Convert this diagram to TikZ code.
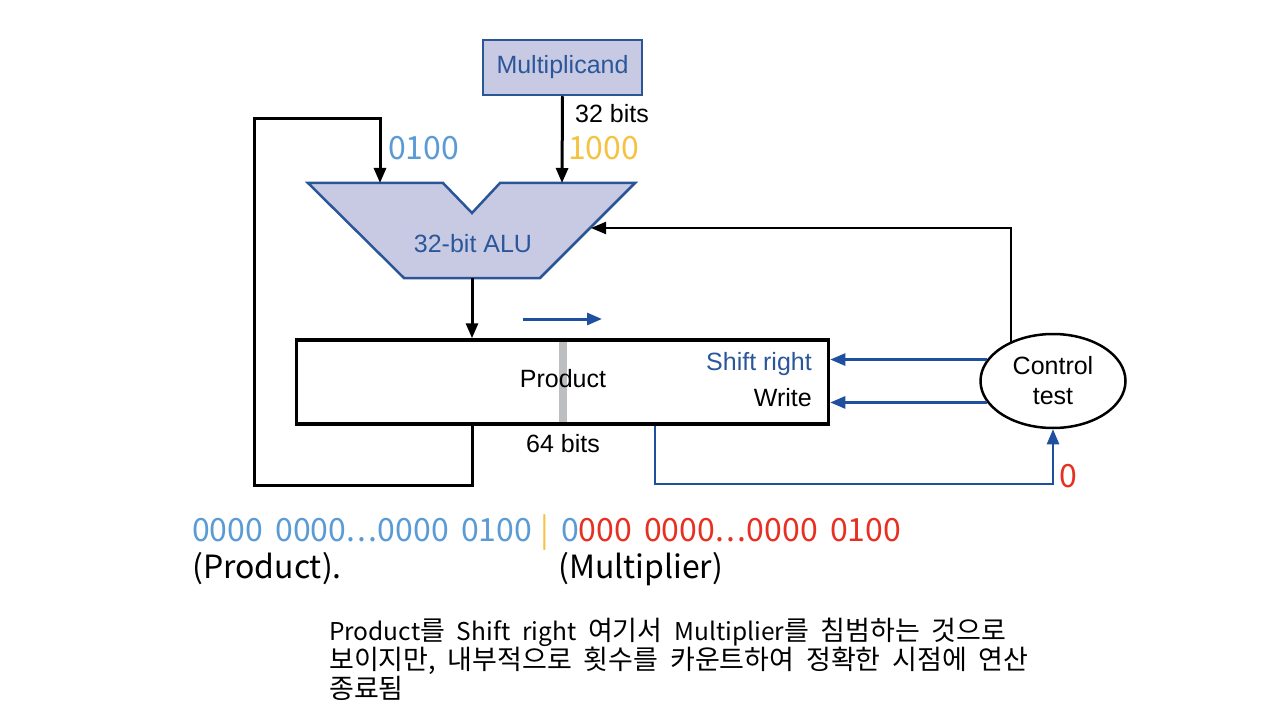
\documentclass[tikz,border=0pt]{standalone}
\usepackage{fontspec}
\setmainfont{Liberation Sans}
\newfontfamily\krfont{Noto Sans CJK KR}
\usetikzlibrary{positioning,shapes.geometric,arrows.meta}
\definecolor{alufill}{HTML}{C8CAE4}
\definecolor{aluedge}{HTML}{2A5597}
\definecolor{alutext}{HTML}{2B579A}
\definecolor{lineblue}{HTML}{1F50A0}
\definecolor{lightblue}{HTML}{5B9BD5}
\definecolor{gold}{HTML}{F5C242}
\definecolor{redtxt}{HTML}{E63022}
\definecolor{bargray}{HTML}{BCBEC0}
\newcommand{\bitdots}{.\kern2pt.\kern2pt.\kern1pt\relax}
\newcommand{\latn}[1]{{\fontsize{24.5}{29}\selectfont #1}}

\begin{document}
\begin{tikzpicture}[x=1pt, y=-1pt,
	lbl/.style={font=\fontsize{25}{30}\selectfont, inner sep=0pt},
	num/.style={font=\krfont\fontsize{32}{34}\selectfont, execute at begin node={\spaceskip=12pt\relax}, inner sep=0pt},
	bignum/.style={font=\krfont\fontsize{32}{34}\selectfont, inner sep=0pt, anchor=base west},
	kr/.style={font=\krfont\fontsize{27}{29}\selectfont, execute at begin node={\spaceskip=11.8pt\relax}, inner sep=0pt, anchor=base west},
	tip/.style={-{Triangle[length=15pt,width=12pt]}},
	blk/.style={tip, line width=3pt},
	ctl/.style={tip, line width=2pt},
	blu/.style={tip, draw=lineblue, line width=2.5pt},
	reg/.style={draw=aluedge, fill=alufill, line width=2.5pt, text=alutext}]
	\useasboundingbox (0,0) rectangle (1280,722);
	
	\node[reg, lbl, minimum width=159pt, minimum height=55pt] (mcand) at (562.5,67.5) {Multiplicand};
	
	\draw[reg] (308,183) -- (443,183) -- (472,213) -- (500,183) -- (635,183) -- (540,278) -- (404,278) -- cycle;
	\coordinate (aluL) at (380,183);
	\coordinate (aluR) at (562,183);
	\coordinate (aluB) at (472,278);
	\coordinate (aluS) at (591,228);
	\node[lbl, text=alutext, anchor=base] (alu) at (473,253) {32-bit ALU};
	
	\fill[bargray] (559,340) rectangle (567,424);
	\node[draw, line width=3.5pt, minimum width=532pt, minimum height=84pt] (prod) at (562.5,382) {};
	\node[lbl, anchor=base] (prodlbl) at (563,387) {Product};
	\node[lbl, text=alutext, anchor=base east] (shift) at (812,370) {Shift right};
	\node[lbl, anchor=base east] (write) at (812,406) {Write};
	
	\node[ellipse, draw, line width=2.5pt, minimum width=145pt, minimum height=94pt, lbl, align=center] (ctrl) at (1053,381) {Control\\test};
	
	\coordinate (loopTL) at (254,119);
	\coordinate (tap) at (655,484);
	\coordinate (shL) at (523,319);
	\coordinate (shR) at (602,319);
	
	\draw[blk] (mcand.south) -- (aluR);
	\draw[blk] (aluB) -- (prod.north -| aluB);
	\draw[blk] (prod.south -| aluB) -- ++(0,60) -| (loopTL) -| (aluL);
	\draw[ctl] (ctrl.137) |- (aluS);
	\draw[blu] (ctrl.162) -- (ctrl.162 -| prod.east);
	\draw[blu] (ctrl.198) -- (ctrl.198 -| prod.east);
	\draw[blu] (prod.south -| tap) -- (tap) -| (ctrl.south);
	\draw[blu, line width=3pt] (shL) -- (shR);
	
	\node[lbl, anchor=base west] (w32) at (575,123) {32 bits};
	\node[lbl, anchor=base] (w64) at (563,452) {64 bits};
	\node[bignum, text=lightblue] (v0100) at (388,160) {0100};
	\node[bignum, text=gold] (v1000) at (568,160) {1000};
	\node[bignum, text=redtxt] (zero) at (1059,487) {0};
	
	\node[num, text=lightblue, anchor=base west] (prodbits) at (192,541) {0000 0000\bitdots 0000 0100};
	\node[num, text=gold, anchor=base] (sep) at (545,541) {|};
	\node[num, anchor=base west] (mplbits) at (561,541) {\textcolor{lightblue}{0}\textcolor{redtxt}{000 0000\bitdots 0000 0100}};
	\node[num, anchor=base west] (prodname) at (192,578) {(Product).};
	\node[num, anchor=base west] (mplname) at (558,578) {(Multiplier)};
	
	\node[kr] (note1) at (329,640) {\latn{Product}를 \latn{Shift} \latn{right} 여기서 \latn{Multiplier}를 침범하는 것으로};
	\node[kr] (note2) at (329,669) {보이지만, 내부적으로 횟수를 카운트하여 정확한 시점에 연산};
	\node[kr] (note3) at (329,698) {종료됨};
\end{tikzpicture}
\end{document}
